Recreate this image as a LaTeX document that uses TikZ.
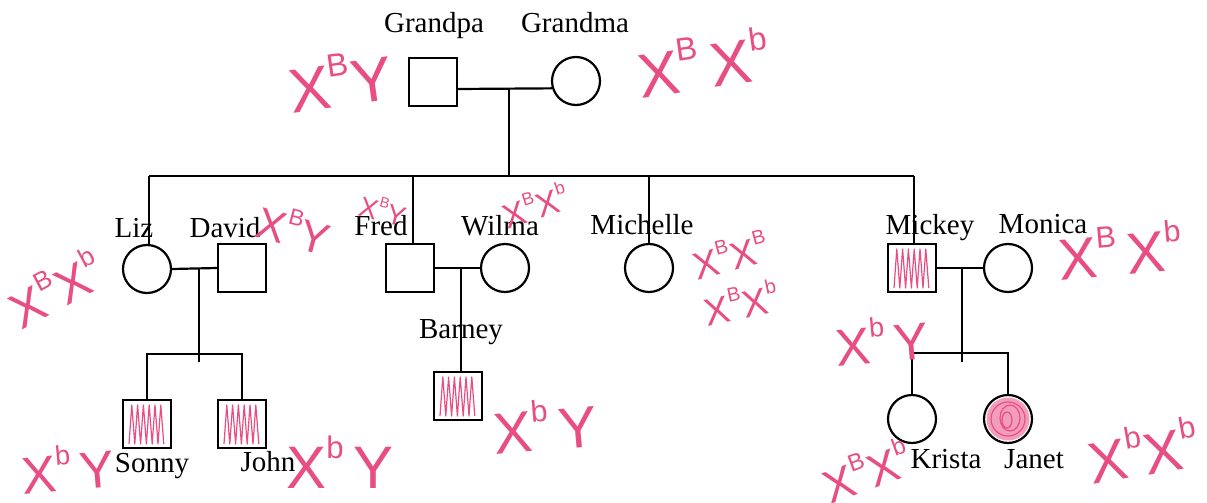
\documentclass[tikz,border=0pt]{standalone}
\usepackage{fontspec}
\usepackage{graphicx}
\setmainfont{Liberation Serif}
\newfontfamily\handfont{Liberation Sans}
\usetikzlibrary{calc}
\definecolor{pen}{RGB}{232,78,132}
\newcommand\Xu[1]{X\raisebox{0.5em}{\scalebox{0.52}{#1}}}
\tikzset{
 person/.style={draw, line width=2.2pt, inner sep=0pt, minimum size=48pt},
 male/.style={person, rectangle},
 female/.style={person, circle},
 rel/.style={line width=2.2pt},
 plbl/.style={anchor=base, font=\fontsize{29}{29}\selectfont, inner sep=0pt},
 handtxt/.style={text=pen, inner sep=0pt},
 penline/.style={draw=pen, line width=1.2pt, line join=round},
 hatchfill/.pic={\draw[penline] (-18,20) \foreach \k in {1,...,6}{ -- ++(2.8,-39) -- ++(3,39)};}
}
\newcommand\hf[1]{\handfont\fontsize{#1}{#1}\selectfont}
\begin{document}
\begin{tikzpicture}[x=1pt,y=-1pt]
\useasboundingbox (0,0) rectangle (1207,503);
\fill[white] (0,0) rectangle (1207,503);

% people
\node[male] (grandpa) at (433,82) {};
\node[female] (grandma) at (576,81) {};
\node[female] (liz) at (147,269) {};
\node[male] (david) at (242,268) {};
\node[male] (fred) at (410,268) {};
\node[female] (wilma) at (505,268) {};
\node[female] (michelle) at (649,268) {};
\node[male] (mickey) at (912,268) {};
\node[female] (monica) at (1008,268) {};
\node[male] (sonny) at (147,424) {};
\node[male] (john) at (242,424) {};
\node[male] (barney) at (458,396) {};
\node[female] (krista) at (912,419) {};
\node[female] (janet) at (1008,419) {};

% affected shading
\pic at (mickey) {hatchfill};
\pic at (sonny) {hatchfill};
\pic at (john) {hatchfill};
\pic at (barney) {hatchfill};
\fill[pen, opacity=0.55] (janet.center) circle (21.5);
\draw[penline] (janet.center) circle (17);
\draw[penline] ($(janet.center)+(2,-1)$) ellipse (10 and 13);
\draw[penline] ($(janet.center)+(-1,1)$) ellipse (5 and 8);

% connectors
\coordinate (gdrop) at (509,89);
\coordinate (gbar) at (509,176);
\coordinate (barL) at (149,176);
\coordinate (barF) at (413,176);
\coordinate (barM) at (649,176);
\coordinate (barR) at (914,176);
\draw[rel] ($(grandpa.east)+(0,7)$) -- (grandma.197);
\draw[rel] (gdrop) -- (gbar);
\draw[rel] (barL) -- (barR);
\draw[rel] (barL) -- (liz.north -| barL);
\draw[rel] (barF) -- (fred.north -| barF);
\draw[rel] (barM) -- (michelle.north);
\draw[rel] (barR) -- (mickey.north -| barR);

\coordinate (ldj) at (199,268);
\coordinate (ldb) at (199,362);
\draw[rel] (liz.east) -- (david.west);
\draw[rel] (ldj) -- (ldb);
\draw[rel] (sonny.north) -- ++(0,-45) -| (john.north);

\coordinate (fwj) at (461,268);
\draw[rel] (fred.east) -- (wilma.west);
\draw[rel] (fwj) -- (barney.north -| fwj);

\coordinate (mmj) at (962,268);
\coordinate (mmb) at (962,362);
\draw[rel] (mickey.east) -- (monica.west);
\draw[rel] (mmj) -- (mmb);
\draw[rel] (krista.north) -- ++(0,-41) -| (janet.north);

% names
\node[plbl] (tgrandpa) at (434,33) {Grandpa};
\node[plbl] (tgrandma) at (575,33) {Grandma};
\node[plbl] (tliz) at (134,237) {Liz};
\node[plbl] (tdavid) at (225,237) {David};
\node[plbl] (tfred) at (381,235) {Fred};
\node[plbl] (twilma) at (500,235) {Wilma};
\node[plbl] (tmichelle) at (642,234) {Michelle};
\node[plbl] (tmickey) at (930,234) {Mickey};
\node[plbl] (tmonica) at (1043,233) {Monica};
\node[plbl] (tbarney) at (461,338) {Barney};
\node[plbl] (tsonny) at (152,472) {Sonny};
\node[plbl] (tjohn) at (268,471) {John};
\node[plbl] (tkrista) at (946,468) {Krista};
\node[plbl] (tjanet) at (1034,468) {Janet};

% handwritten genotypes
\node[handtxt, font=\hf{62}, rotate=8] (g1) at (340,80) {\Xu{B}Y};
\node[handtxt, font=\hf{62}, rotate=8] (g2) at (703,62) {\Xu{B}\,\Xu{b}};
\node[handtxt, font=\hf{50}, rotate=28] (g3) at (55,288) {\Xu{B}\Xu{b}};
\node[handtxt, font=\hf{44}, rotate=-15] (g4) at (294,228) {\Xu{B}Y};
\node[handtxt, font=\hf{28}, rotate=-15] (g5) at (383,210) {\Xu{B}Y};
\node[handtxt, font=\hf{34}, rotate=18] (g6) at (535,205) {\Xu{B}\Xu{b}};
\node[handtxt, font=\hf{38}, rotate=15] (g7) at (730,255) {\Xu{B}\Xu{B}};
\node[handtxt, font=\hf{38}, rotate=12] (g8) at (741,302) {\Xu{B}\Xu{b}};
\node[handtxt, font=\hf{52}, rotate=5] (g9) at (882,340) {\Xu{b}\,Y};
\node[handtxt, font=\hf{58}, rotate=5] (g10) at (1120,250) {\Xu{B}\,\Xu{b}};
\node[handtxt, font=\hf{58}, rotate=5] (g11) at (545,425) {\Xu{b}\,Y};
\node[handtxt, font=\hf{52}, rotate=5] (g12) at (68,468) {\Xu{b}\,Y};
\node[handtxt, font=\hf{60}] (g13) at (340,462) {\Xu{b}\,Y};
\node[handtxt, font=\hf{46}, rotate=20] (g14) at (866,470) {\Xu{B}\Xu{b}};
\node[handtxt, font=\hf{58}, rotate=10] (g15) at (1143,450) {\Xu{b}\Xu{b}};
\end{tikzpicture}
\end{document}
